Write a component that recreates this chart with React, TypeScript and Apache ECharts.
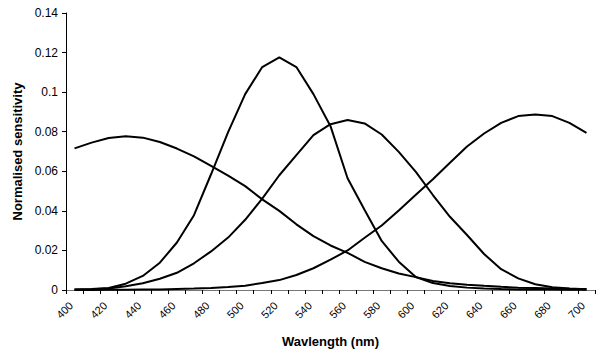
import React, { useEffect, useRef } from "react";
import * as echarts from "echarts";

const wavelengths = [
  "400", "410", "420", "430", "440", "450", "460", "470", "480", "490",
  "500", "510", "520", "530", "540", "550", "560", "570", "580", "590",
  "600", "610", "620", "630", "640", "650", "660", "670", "680", "690", "700",
];

const shortCone = [
  0.0716, 0.0745, 0.0768, 0.0777, 0.077, 0.0748, 0.0715, 0.0675, 0.0627, 0.0578,
  0.0525, 0.0458, 0.04, 0.0332, 0.0272, 0.0225, 0.0188, 0.0142, 0.011, 0.0083,
  0.0065, 0.0046, 0.0034, 0.0027, 0.0021, 0.0016, 0.0012, 0.001, 0.0008, 0.0006, 0.0005,
];

const mediumCone = [
  0.0002, 0.0005, 0.001, 0.0032, 0.0071, 0.0138, 0.024, 0.0378, 0.0585, 0.0798,
  0.099, 0.1127, 0.1176, 0.1127, 0.099, 0.0828, 0.0565, 0.0404, 0.0248, 0.0143,
  0.0066, 0.0035, 0.002, 0.0012, 0.0008, 0.0005, 0.0003, 0.0002, 0.0002, 0.0001, 0.0001,
];

const longCone = [
  0.0002, 0.0004, 0.0007, 0.0019, 0.0034, 0.0057, 0.0087, 0.0135, 0.0195, 0.0265,
  0.0355, 0.0462, 0.058, 0.0682, 0.0783, 0.0838, 0.0859, 0.0842, 0.0786, 0.0698,
  0.0597, 0.048, 0.037, 0.0278, 0.0182, 0.0105, 0.0059, 0.0029, 0.0014, 0.0007, 0.0004,
];

const farCone = [
  0.0, 0.0, 0.0001, 0.0001, 0.0002, 0.0003, 0.0005, 0.0007, 0.001, 0.0015,
  0.0022, 0.0035, 0.005, 0.0076, 0.011, 0.0153, 0.02, 0.0264, 0.0326, 0.0402,
  0.0481, 0.056, 0.0643, 0.0725, 0.0791, 0.0845, 0.0879, 0.0887, 0.0879, 0.0845, 0.0794,
];

const yTicks = { min: 0, max: 0.14, interval: 0.02 };

const FONT = "'Liberation Sans', Arial, Helvetica, sans-serif";

export default function App() {
  const ref = useRef<HTMLDivElement>(null);

  useEffect(() => {
    if (!ref.current) return;
    const chart = echarts.init(ref.current, null, { renderer: "svg" });
    const mkSeries = (name: string, data: number[]) => ({
      name,
      type: "line",
      data,
      showSymbol: false,
      symbol: "none",
      smooth: false,
      lineStyle: { color: "#000", width: 2 },
    });
    chart.setOption({
      animation: false,
      backgroundColor: "#fff",
      textStyle: { fontFamily: FONT },
      grid: { left: 66, right: 5, top: 13, bottom: 64 },
      xAxis: {
        type: "category",
        data: wavelengths,
        boundaryGap: true,
        name: "Wavlength (nm)",
        nameLocation: "middle",
        nameGap: 45,
        nameTextStyle: { fontFamily: FONT, fontSize: 13, fontWeight: "bold", color: "#000" },
        axisLine: { lineStyle: { color: "#777", width: 1 } },
        axisTick: { show: true, interval: 0, length: 4, lineStyle: { color: "#000" } },
        axisLabel: {
          interval: 1,
          rotate: 45,
          margin: 10,
          padding: [0, 5, 0, 0],
          fontFamily: FONT,
          fontSize: 11,
          color: "#000",
        },
        splitLine: { show: false },
      },
      yAxis: {
        type: "value",
        min: yTicks.min,
        max: yTicks.max,
        interval: yTicks.interval,
        name: "Normalised sensitivity",
        nameLocation: "middle",
        nameGap: 40,
        nameTextStyle: { fontFamily: FONT, fontSize: 13, fontWeight: "bold", color: "#000" },
        axisLine: { show: true, lineStyle: { color: "#000", width: 1 } },
        axisTick: { show: true, length: 4, lineStyle: { color: "#000" } },
        axisLabel: {
          margin: 8,
          fontFamily: FONT,
          fontSize: 12,
          color: "#000",
          formatter: (v: number) => String(parseFloat(v.toFixed(2))),
        },
        splitLine: { show: false },
      },
      series: [
        mkSeries("S", shortCone),
        mkSeries("M", mediumCone),
        mkSeries("L", longCone),
        mkSeries("R", farCone),
      ],
    });
    return () => chart.dispose();
  }, []);

  return (
    <div
      ref={ref}
      style={{ position: "fixed", left: 0, top: 0, width: 600, height: 354, background: "#fff" }}
    />
  );
}
